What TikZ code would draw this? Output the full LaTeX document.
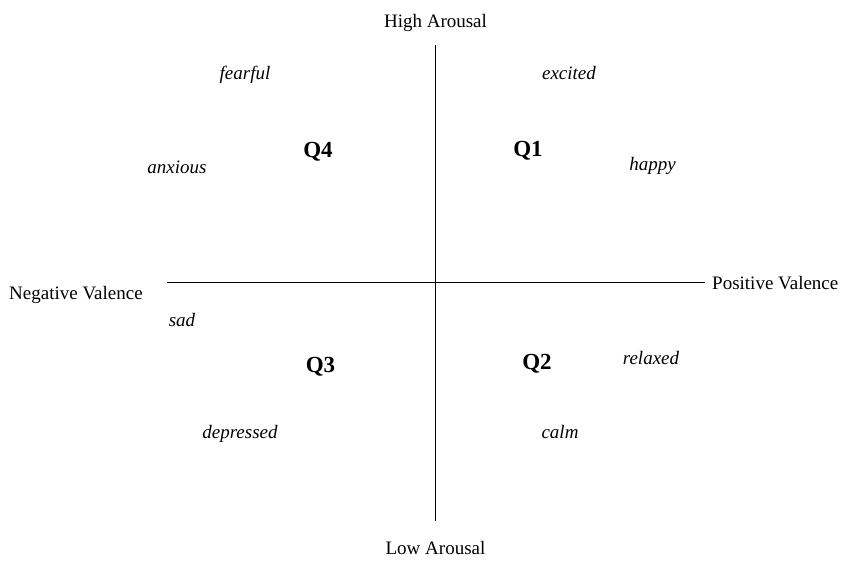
\documentclass[tikz,border=0pt]{standalone}
\usepackage{fontspec}
\setmainfont{Liberation Serif}
\begin{document}
\begin{tikzpicture}[x=1pt,y=-1pt,
  lbl/.style={anchor=base,inner sep=0pt,font=\fontsize{19}{22}\selectfont},
  emo/.style={anchor=base,inner sep=0pt,font=\fontsize{19}{22}\selectfont\itshape},
  quad/.style={anchor=base,inner sep=0pt,font=\fontsize{23}{26}\selectfont\bfseries},
  axis/.style={draw=black,line width=0.9pt}]
\useasboundingbox (0,0) rectangle (843,565);
\coordinate (top) at (435,45);
\coordinate (bot) at (435,521);
\coordinate (left) at (167,282);
\coordinate (right) at (705,282);
\draw[axis] (top) -- (bot);
\draw[axis] (left) -- (right);
\node[lbl] (ha) at (435.5,27) {High Arousal};
\node[lbl] (la) at (435.5,554) {Low Arousal};
\node[lbl,anchor=base west] (pv) at (712,289) {Positive Valence};
\node[lbl,anchor=base west] (nv) at (9,299) {Negative Valence};
\node[emo] (fearful) at (245,79) {fearful};
\node[emo] (excited) at (569,79) {excited};
\node[quad] (q4) at (318,157) {Q4};
\node[quad] (q1) at (528,156) {Q1};
\node[emo] (anxious) at (177,173) {anxious};
\node[emo] (happy) at (652.5,170) {happy};
\node[emo] (sad) at (182,326) {sad};
\node[quad] (q3) at (320.5,372) {Q3};
\node[quad] (q2) at (537,369) {Q2};
\node[emo] (relaxed) at (651,364) {relaxed};
\node[emo] (depressed) at (240,438) {depressed};
\node[emo] (calm) at (560,438) {calm};
\end{tikzpicture}
\end{document}
